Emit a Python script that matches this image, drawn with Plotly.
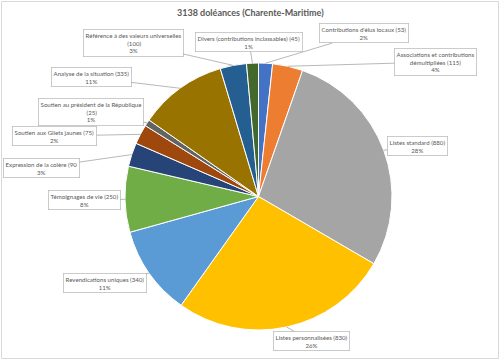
import math
import plotly.graph_objects as go

title = "3138 doléances (Charente-Maritime)"
categories = [
    "Contributions d'élus locaux",
    "Associations et contributions<br>démultipliées",
    "Listes standard",
    "Listes personnalisées",
    "Revendications uniques",
    "Témoignages de vie",
    "Expression de la colère",
    "Soutien aux Gilets jaunes",
    "Soutien au président de la République<br>",
    "Analyse de la situation",
    "Référence à des valeurs universelles<br>",
    "Divers (contributions inclassables)",
]
values = [53, 115, 880, 830, 340, 250, 90, 75, 25, 335, 100, 45]
colors = ["#4472C4", "#ED7D31", "#A5A5A5", "#FFC000", "#5B9BD5", "#70AD47",
          "#264478", "#9E480E", "#636363", "#997300", "#255E91", "#43682B"]
# label box centres (pixels)
label_pos = [(364, 33.5), (435.5, 62), (417.5, 146), (311, 341), (104.5, 283),
             (84, 200), (41.5, 167.5), (54.5, 136), (91, 112.5), (91, 77.5),
             (133, 42.5), (249, 42)]

W, H = 500, 360
cx, cy, r = 258.5, 196.5, 133.5

fig = go.Figure(go.Pie(
    labels=categories, values=values, sort=False, direction="clockwise",
    rotation=0, textinfo="none", hoverinfo="label+value+percent",
    marker=dict(colors=colors, line=dict(color="white", width=1)),
    domain=dict(x=[(cx - r) / W, (cx + r) / W], y=[1 - (cy + r) / H, 1 - (cy - r) / H]),
    showlegend=False,
))

total = sum(values)
cum = 0
annotations = []
for cat, v, (bx, by) in zip(categories, values, label_pos):
    mid = (cum + v / 2) / total * 2 * math.pi
    cum += v
    tx = cx + r * math.sin(mid)
    ty = cy - r * math.cos(mid)
    name = cat
    if cat.startswith("Expression"):
        txt = f"{name} ({v}<br>{round(v / total * 100)}%"
    else:
        txt = f"{name} ({v})<br>{round(v / total * 100)}%"
    annotations.append(dict(
        x=tx / W, y=1 - ty / H, xref="paper", yref="paper",
        ax=bx - tx, ay=by - ty, axref="pixel", ayref="pixel",
        text=txt, showarrow=True, arrowhead=0, arrowwidth=0.8, arrowcolor="#A6A6A6",
        font=dict(family="Lato", size=6.1, color="#595959"),
        bgcolor="white", bordercolor="#BFBFBF", borderwidth=0.8, borderpad=1.8,
        align="center",
    ))

annotations.append(dict(
    x=0.5, y=1 - 13 / H, xref="paper", yref="paper", showarrow=False,
    xanchor="center", yanchor="middle",
    text="<b>" + title + "</b>", font=dict(family="Lato", size=9, color="#595959"),
))

fig.update_layout(
    width=W, height=H, margin=dict(l=0, r=0, t=0, b=0),
    paper_bgcolor="white", plot_bgcolor="white",
    annotations=annotations,
    shapes=[dict(type="rect", xref="paper", yref="paper",
                 x0=1.5 / W, x1=498.5 / W, y0=1 - 358.5 / H, y1=1 - 1.5 / H,
                 line=dict(color="#D9D9D9", width=1))],
)
fig.write_html("out.html", config={"displayModeBar": False},
               post_script="document.body.style.margin='0';document.body.style.overflow='hidden';")
